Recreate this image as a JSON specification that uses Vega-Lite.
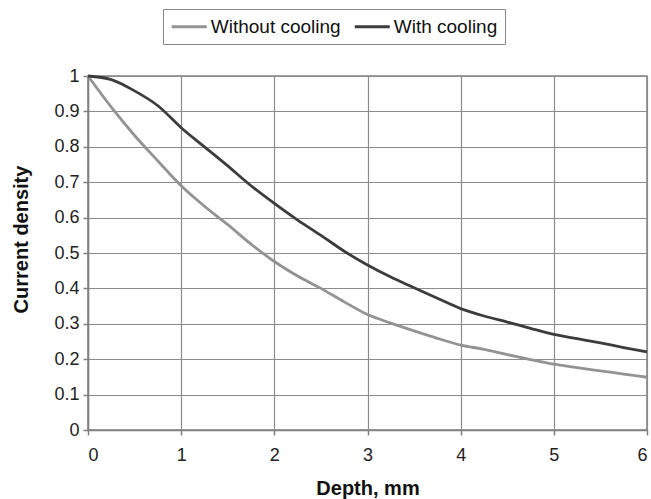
{
  "$schema": "https://vega.github.io/schema/vega-lite/v6.json",
  "autosize": {"type": "none"},
  "width": 559,
  "height": 354,
  "padding": {"left": 88, "top": 76, "right": 4, "bottom": 69},
  "background": "white",
  "config": {
    "font": "Liberation Sans",
    "view": {"stroke": "#808080", "strokeWidth": 1.5},
    "axis": {
      "gridColor": "#8c8c8c", "gridWidth": 1.2, "gridOpacity": 1,
      "domainColor": "#808080", "domainWidth": 1.5,
      "tickColor": "#808080", "tickWidth": 1.5, "tickSize": 5,
      "labelFont": "Liberation Sans", "labelFontSize": 18, "labelColor": "#222",
      "titleFont": "Liberation Sans", "titleFontSize": 20, "titleFontWeight": "bold", "titleColor": "#111"
    }
  },
  "data": {"values": [
    {"depth": 0, "density": 1.0, "series": "Without cooling"},
    {"depth": 0.25, "density": 0.912, "series": "Without cooling"},
    {"depth": 0.5, "density": 0.832, "series": "Without cooling"},
    {"depth": 0.75, "density": 0.76, "series": "Without cooling"},
    {"depth": 1, "density": 0.69, "series": "Without cooling"},
    {"depth": 1.25, "density": 0.632, "series": "Without cooling"},
    {"depth": 1.5, "density": 0.58, "series": "Without cooling"},
    {"depth": 1.75, "density": 0.525, "series": "Without cooling"},
    {"depth": 2, "density": 0.476, "series": "Without cooling"},
    {"depth": 2.25, "density": 0.435, "series": "Without cooling"},
    {"depth": 2.5, "density": 0.4, "series": "Without cooling"},
    {"depth": 2.75, "density": 0.362, "series": "Without cooling"},
    {"depth": 3, "density": 0.326, "series": "Without cooling"},
    {"depth": 3.25, "density": 0.302, "series": "Without cooling"},
    {"depth": 3.5, "density": 0.28, "series": "Without cooling"},
    {"depth": 3.75, "density": 0.259, "series": "Without cooling"},
    {"depth": 4, "density": 0.24, "series": "Without cooling"},
    {"depth": 4.25, "density": 0.228, "series": "Without cooling"},
    {"depth": 4.5, "density": 0.213, "series": "Without cooling"},
    {"depth": 4.75, "density": 0.199, "series": "Without cooling"},
    {"depth": 5, "density": 0.186, "series": "Without cooling"},
    {"depth": 5.25, "density": 0.176, "series": "Without cooling"},
    {"depth": 5.5, "density": 0.167, "series": "Without cooling"},
    {"depth": 5.75, "density": 0.158, "series": "Without cooling"},
    {"depth": 6, "density": 0.149, "series": "Without cooling"},
    {"depth": 0, "density": 1.0, "series": "With cooling"},
    {"depth": 0.25, "density": 0.99, "series": "With cooling"},
    {"depth": 0.5, "density": 0.958, "series": "With cooling"},
    {"depth": 0.75, "density": 0.916, "series": "With cooling"},
    {"depth": 1, "density": 0.854, "series": "With cooling"},
    {"depth": 1.25, "density": 0.8, "series": "With cooling"},
    {"depth": 1.5, "density": 0.746, "series": "With cooling"},
    {"depth": 1.75, "density": 0.69, "series": "With cooling"},
    {"depth": 2, "density": 0.64, "series": "With cooling"},
    {"depth": 2.25, "density": 0.593, "series": "With cooling"},
    {"depth": 2.5, "density": 0.55, "series": "With cooling"},
    {"depth": 2.75, "density": 0.505, "series": "With cooling"},
    {"depth": 3, "density": 0.466, "series": "With cooling"},
    {"depth": 3.25, "density": 0.432, "series": "With cooling"},
    {"depth": 3.5, "density": 0.402, "series": "With cooling"},
    {"depth": 3.75, "density": 0.372, "series": "With cooling"},
    {"depth": 4, "density": 0.343, "series": "With cooling"},
    {"depth": 4.25, "density": 0.322, "series": "With cooling"},
    {"depth": 4.5, "density": 0.305, "series": "With cooling"},
    {"depth": 4.75, "density": 0.287, "series": "With cooling"},
    {"depth": 5, "density": 0.27, "series": "With cooling"},
    {"depth": 5.25, "density": 0.258, "series": "With cooling"},
    {"depth": 5.5, "density": 0.246, "series": "With cooling"},
    {"depth": 5.75, "density": 0.233, "series": "With cooling"},
    {"depth": 6, "density": 0.221, "series": "With cooling"}
  ]},
  "mark": {"type": "line", "strokeWidth": 2.8, "interpolate": "monotone"},
  "encoding": {
    "x": {
      "field": "depth", "type": "quantitative",
      "scale": {"domain": [0, 6], "nice": false},
      "axis": {"values": [0, 1, 2, 3, 4, 5, 6], "title": "Depth, mm", "labelPadding": 11,
               "titleY": 58, "titleBaseline": "middle", "titleAlign": "center"}
    },
    "y": {
      "field": "density", "type": "quantitative",
      "scale": {"domain": [0, 1], "nice": false},
      "axis": {"values": [0, 0.1, 0.2, 0.3, 0.4, 0.5, 0.6, 0.7, 0.8, 0.9, 1], "title": "Current density",
               "labelPadding": 4, "labelExpr": "datum.value == 0 ? '0' : datum.value == 1 ? '1' : format(datum.value, '.1f')",
               "titleX": -67, "titleY": 163, "titleBaseline": "middle", "titleAlign": "center", "titleAngle": -90}
    },
    "color": {
      "field": "series", "type": "nominal",
      "scale": {"domain": ["Without cooling", "With cooling"], "range": ["#939393", "#3c3c3c"]},
      "legend": {
        "title": null, "orient": "none", "direction": "horizontal",
        "legendX": 75, "legendY": -67,
        "strokeColor": "#888", "padding": 7,
        "symbolType": "M-2,0H2", "symbolSize": 306, "symbolStrokeWidth": 2.8,
        "symbolOffset": 8.75,
        "labelFont": "Liberation Sans", "labelFontSize": 19, "labelColor": "#111",
        "labelOffset": 11, "columnPadding": 8
      }
    }
  }
}
